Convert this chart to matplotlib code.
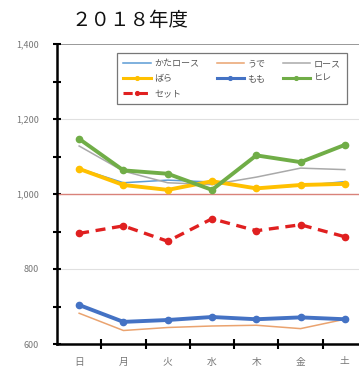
import matplotlib
matplotlib.use("Agg")
import matplotlib.pyplot as plt
from matplotlib.ticker import MultipleLocator, FuncFormatter

plt.rcParams['font.family'] = ['Noto Sans CJK JP', 'DejaVu Sans']

days = ['日', '月', '火', '水', '木', '金', '土']
kata_rosu = [1068, 1030, 1037, 1032, 1015, 1022, 1033]
ude = [682, 636, 644, 648, 650, 641, 666]
rosu = [1128, 1061, 1030, 1025, 1045, 1069, 1065]
bara = [1067, 1024, 1011, 1034, 1015, 1024, 1027]
momo = [704, 659, 664, 672, 666, 671, 666]
hire = [1147, 1063, 1054, 1011, 1103, 1085, 1131]
setto = [895, 915, 874, 934, 902, 918, 886]
title = '２０１８年度'

fig = plt.figure(figsize=(3.59, 3.69), dpi=100)
ax = fig.add_axes([57/359, 1-344/369, 1-57/359, 300/369])
x = list(range(len(days)))

h1, = ax.plot(x, kata_rosu, color='#5b9bd5', lw=1.1, label='かたロース', zorder=3)
h2, = ax.plot(x, ude, color='#eaa36f', lw=1.1, label='うで', zorder=3)
h3, = ax.plot(x, rosu, color='#a9a9a9', lw=1.1, label='ロース', zorder=3)
h4, = ax.plot(x, bara, color='#ffc000', lw=2.8, marker='o', ms=4.5, label='ばら', zorder=4)
h5, = ax.plot(x, momo, color='#4472c4', lw=2.8, marker='o', ms=4.5, label='もも', zorder=4)
h6, = ax.plot(x, hire, color='#70ad47', lw=2.8, marker='o', ms=4.5, label='ヒレ', zorder=4)
h7, = ax.plot(x, setto, color='#e02020', lw=2.4, ls=(0, (3, 2)), marker='o', ms=4.5, label='セット', zorder=4)

ax.axhline(1000, color='#d9827a', lw=1.0, zorder=2)
for v in [1200, 800]:
    ax.axhline(v, color='#e0e0e0', lw=0.8, zorder=1)
ax.axhline(1400, color='#888888', lw=1.2, zorder=1)

ax.set_ylim(600, 1400)
ax.set_xlim(-0.5, 6.5 - 8/44.3)
ax.yaxis.set_major_locator(MultipleLocator(200))
ax.yaxis.set_minor_locator(MultipleLocator(100))
ax.yaxis.set_major_formatter(FuncFormatter(lambda v, p: f'{int(v):,}'))
ax.set_xticks(x)
ax.set_xticklabels(days)
ax.set_xticks([i + 0.5 for i in range(6)], minor=True)
ax.tick_params(axis='x', which='major', length=0, labelsize=7, colors='#777777', pad=9)
ax.tick_params(axis='x', which='minor', direction='inout', length=7, width=1.5, color='black')
ax.tick_params(axis='y', which='both', direction='inout', length=6, width=1.5, color='black', labelsize=6.5, labelcolor='#777777', pad=10)

for s in ['top', 'right']:
    ax.spines[s].set_visible(False)
ax.spines['left'].set_linewidth(1.8)
ax.spines['bottom'].set_linewidth(1.8)

handles = [h1, h4, h7, h2, h5, h3, h6]
leg = ax.legend(handles=handles, loc='upper left', bbox_to_anchor=(0.199, 0.79, 0.761, 0.18),
                mode='expand', ncol=3, fontsize=6.5, frameon=True, fancybox=False,
                handlelength=3.0, handletextpad=0.4, borderpad=0.7, labelspacing=0.65,
                markerscale=0.6, borderaxespad=0)
leg.get_frame().set_edgecolor('#555555')
leg.get_frame().set_linewidth(0.9)
for t in leg.get_texts():
    t.set_color('#555555')
for lh in leg.get_lines():
    if lh.get_linewidth() > 2:
        lh.set_linewidth(2.2)

fig.text(130/359, 1-20/369, title, fontsize=14, ha='center', va='center', color='#111111')

fig.savefig('out.png', dpi=100)
